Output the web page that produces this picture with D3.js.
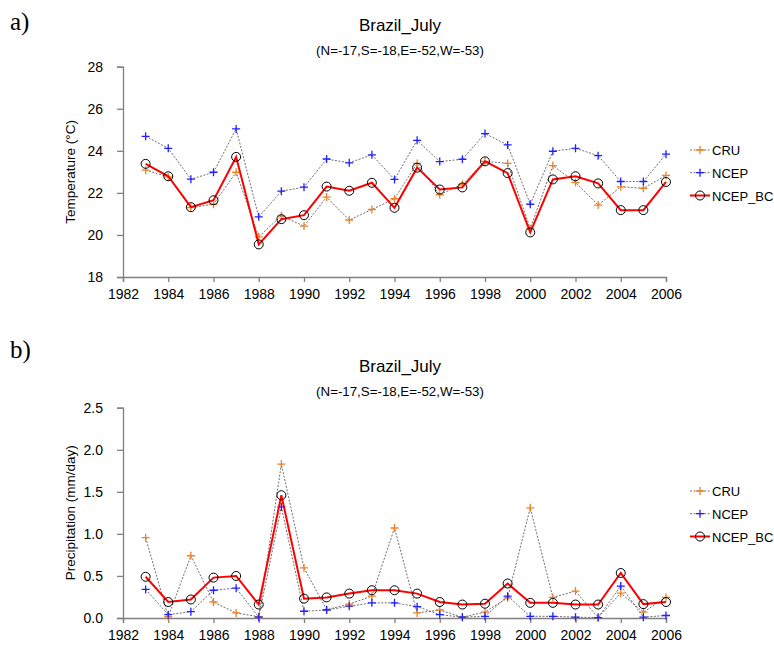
<!DOCTYPE html>
<html lang="en">
<head>
  <meta charset="UTF-8">
  <title>Brazil_July</title>
  <script src="https://d3js.org/d3.v7.min.js"></script>
  <style>
    body { margin: 0; background: #fff; }
    text { font-family: "Liberation Sans", Arial, sans-serif; fill: #000; }
    .axis path, .axis line { stroke: #808080; stroke-width: 1.3px; }
    .axis text { font-size: 14px; }
    .panel-label { font-family: "Liberation Serif", "DejaVu Serif", serif; font-size: 25px; }
    .obs { fill: none; stroke: #4a4a4a; stroke-width: 0.8px; stroke-dasharray: 2,1.5; }
    .bc { fill: none; stroke: #ff0000; stroke-width: 2px; }
  </style>
</head>
<body>
  <script>
    // Values
    const years = d3.range(1983, 2007);
    const xTicks = d3.range(1982, 2007, 2);

    const cruTemp  = [23.08, 22.76, 21.30, 21.46, 22.98, 19.91, 20.91, 20.42, 21.80, 20.71, 21.21, 21.72,
                      23.40, 21.91, 22.41, 23.50, 23.40, 20.30, 23.30, 22.49, 21.42, 22.29, 22.22, 22.83];
    const ncepTemp = [24.69, 24.12, 22.65, 22.98, 25.04, 20.86, 22.08, 22.27, 23.61, 23.43, 23.81, 22.64,
                      24.50, 23.49, 23.60, 24.82, 24.28, 21.46, 23.98, 24.12, 23.77, 22.54, 22.54, 23.84];
    const bcTemp   = [23.38, 22.79, 21.32, 21.65, 23.71, 19.55, 20.75, 20.94, 22.30, 22.10, 22.48, 21.29,
                      23.20, 22.16, 22.26, 23.50, 22.94, 20.12, 22.64, 22.79, 22.45, 21.18, 21.18, 22.52];

    const cruPrec  = [0.955, 0.015, 0.74, 0.19, 0.06, 0.015, 1.83, 0.595, 0.10, 0.165, 0.26, 1.07,
                      0.06, 0.095, 0.01, 0.07, 0.24, 1.31, 0.245, 0.32, 0.005, 0.295, 0.07, 0.245];
    const ncepPrec = [0.34, 0.04, 0.075, 0.33, 0.355, 0.01, 1.32, 0.08, 0.095, 0.14, 0.18, 0.18,
                      0.135, 0.04, 0.01, 0.02, 0.26, 0.02, 0.02, 0.01, 0.005, 0.38, 0.01, 0.03];
    const bcPrec   = [0.49, 0.19, 0.22, 0.48, 0.50, 0.16, 1.46, 0.23, 0.245, 0.29, 0.33, 0.33,
                      0.29, 0.19, 0.16, 0.17, 0.41, 0.18, 0.18, 0.16, 0.16, 0.535, 0.165, 0.19];

    const tempTicks = [18, 20, 22, 24, 26, 28];
    const precTicks = [0, 0.5, 1.0, 1.5, 2.0, 2.5];

    const seriesNames = ["CRU", "NCEP", "NCEP_BC"];
    const cruColor = "#ee8124";
    const ncepColor = "#1f1fff";

    const width = 774, height = 652;
    const svg = d3.select("body").append("svg")
      .attr("width", width)
      .attr("height", height);

    const x = d3.scaleLinear().domain([1982, 2006]).range([123, 666]);

    const plus = "M-4,0H4M0,-4V4";

    function panel(cfg) {
      const g = svg.append("g").attr("transform", `translate(0,${cfg.dy})`);
      const y = d3.scaleLinear().domain(cfg.domain).range([277, 66.7]);

      g.append("text").attr("class", "panel-label")
        .attr("x", 10).attr("y", cfg.labelY - cfg.dy).text(cfg.label);

      g.append("text").attr("x", 400).attr("y", 31)
        .attr("text-anchor", "middle").style("font-size", "17px").text("Brazil_July");
      g.append("text").attr("x", 400).attr("y", 55)
        .attr("text-anchor", "middle").style("font-size", "13.3px")
        .text("(N=-17,S=-18,E=-52,W=-53)");

      g.append("g").attr("class", "axis")
        .attr("transform", "translate(0,277)")
        .call(d3.axisBottom(x).tickValues(xTicks).tickFormat(d3.format("d"))
          .tickSizeOuter(0).tickSize(5).tickPadding(7));

      g.append("g").attr("class", "axis")
        .attr("transform", `translate(${x.range()[0]},0)`)
        .call(d3.axisLeft(y).tickValues(cfg.ticks).tickFormat(cfg.fmt)
          .tickSizeOuter(0).tickSize(6).tickPadding(14));

      g.append("text")
        .attr("transform", `translate(75,${(y.range()[0] + y.range()[1]) / 2}) rotate(-90)`)
        .attr("text-anchor", "middle").style("font-size", "13.5px").text(cfg.ylabel);

      const line = d3.line().x((d, i) => x(years[i])).y(d => y(d));

      // observed and raw series: dashed lines with + markers
      [[cfg.cru, cruColor], [cfg.ncep, ncepColor]].forEach(([vals, col]) => {
        g.append("path").datum(vals).attr("class", "obs").attr("d", line);
        g.selectAll(null).data(vals).enter().append("path")
          .attr("d", plus)
          .attr("transform", (d, i) => `translate(${x(years[i])},${y(d)})`)
          .attr("stroke", col).attr("stroke-width", 1.3);
      });

      g.append("path").datum(cfg.bc).attr("class", "bc").attr("d", line);
      g.selectAll(null).data(cfg.bc).enter().append("circle")
        .attr("cx", (d, i) => x(years[i])).attr("cy", d => y(d)).attr("r", 4.5)
        .attr("fill", "none").attr("stroke", "#000").attr("stroke-width", 1);

      // legend
      const leg = g.append("g");
      const rowY = [150, 172.7, 195.5];
      seriesNames.forEach((name, i) => {
        const r = leg.append("g").attr("transform", `translate(0,${rowY[i]})`);
        if (i < 2) {
          r.append("line").attr("x1", 690).attr("x2", 710).attr("class", "obs");
          r.append("path").attr("d", plus).attr("transform", "translate(700,0)")
            .attr("stroke", i === 0 ? cruColor : ncepColor).attr("stroke-width", 1.3);
        } else {
          r.append("line").attr("x1", 690).attr("x2", 710).attr("class", "bc");
          r.append("circle").attr("cx", 700).attr("r", 4.5)
            .attr("fill", "none").attr("stroke", "#000");
        }
        r.append("text").attr("x", 712).attr("y", 5).style("font-size", "13px").text(name);
      });
    }

    panel({
      dy: 0, label: "a)", labelY: 30, domain: [18, 28], ticks: tempTicks, fmt: d3.format("d"),
      ylabel: "Temperature (\u00B0C)", cru: cruTemp, ncep: ncepTemp, bc: bcTemp
    });
    panel({
      dy: 341, label: "b)", labelY: 358, domain: [0, 2.5], ticks: precTicks, fmt: d3.format(".1f"),
      ylabel: "Precipitation (mm/day)", cru: cruPrec, ncep: ncepPrec, bc: bcPrec
    });
  </script>
</body>
</html>
